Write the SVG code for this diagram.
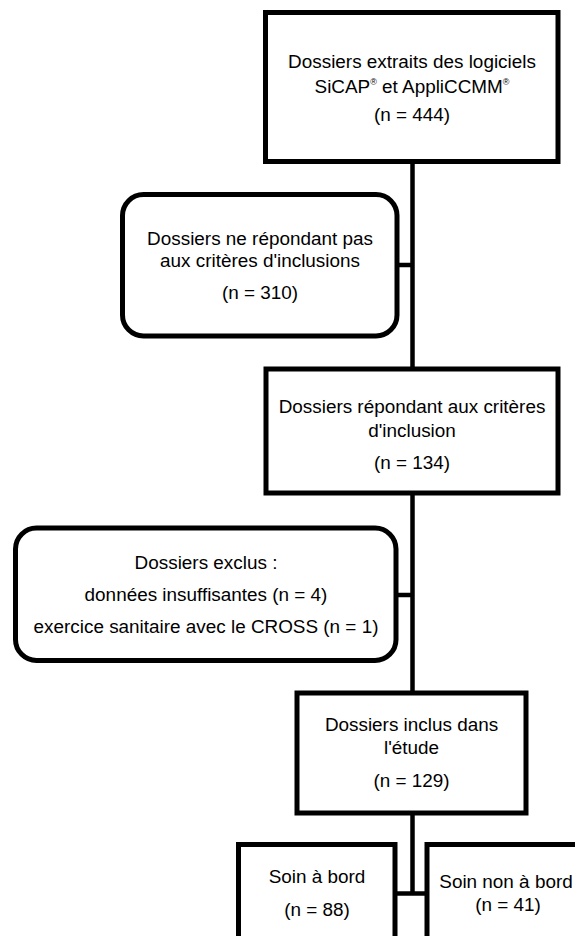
<svg xmlns="http://www.w3.org/2000/svg" width="575" height="936" viewBox="0 0 575 936">
<style>
.box{fill:#fff;stroke:#000;stroke-width:5}
.t{font-family:"Liberation Sans",Arial,sans-serif;font-size:18.9px;fill:#000;text-anchor:middle}
.sup{font-size:9px}
.c{fill:none;stroke:#000;stroke-width:4.5}
</style>
<rect width="575" height="936" fill="#fff"/>
<g id="connectors">
<line class="c" x1="412.5" y1="163" x2="412.5" y2="369"/>
<line class="c" x1="397" y1="265" x2="412.5" y2="265"/>
<line class="c" x1="412.5" y1="493" x2="412.5" y2="693"/>
<line class="c" x1="396" y1="595" x2="412.5" y2="595"/>
<line class="c" x1="412.5" y1="813" x2="412.5" y2="893.5"/>
<line class="c" x1="395" y1="893.5" x2="427" y2="893.5"/>
</g>
<g id="n1">
<rect class="box" x="265.5" y="12.5" width="292.5" height="149"/>
<text class="t" x="412" y="68">Dossiers extraits des logiciels</text>
<text class="t" x="412" y="93">SiCAP<tspan class="sup" dy="-8">®</tspan><tspan dy="8"> et AppliCCMM</tspan><tspan class="sup" dy="-8">®</tspan></text>
<text class="t" x="412" y="121">(n = 444)</text>
</g>
<g id="n2">
<rect class="box" x="122.5" y="194.5" width="274.5" height="141.5" rx="21"/>
<text class="t" x="260" y="245">Dossiers ne répondant pas</text>
<text class="t" x="260" y="267">aux critères d'inclusions</text>
<text class="t" x="260" y="299">(n = 310)</text>
</g>
<g id="n3">
<rect class="box" x="266" y="369" width="292" height="124"/>
<text class="t" x="412" y="413">Dossiers répondant aux critères</text>
<text class="t" x="412" y="437">d'inclusion</text>
<text class="t" x="412" y="469">(n = 134)</text>
</g>
<g id="n4">
<rect class="box" x="15.5" y="528" width="380.5" height="132.5" rx="21"/>
<text class="t" x="206" y="569">Dossiers exclus :</text>
<text class="t" x="206" y="601">données insuffisantes (n = 4)</text>
<text class="t" x="206" y="633">exercice sanitaire avec le CROSS (n = 1)</text>
</g>
<g id="n5">
<rect class="box" x="297" y="693" width="229" height="120"/>
<text class="t" x="411.5" y="731">Dossiers inclus dans</text>
<text class="t" x="411.5" y="754">l'étude</text>
<text class="t" x="411.5" y="787">(n = 129)</text>
</g>
<g id="n6">
<rect class="box" x="238.5" y="844.5" width="156.5" height="120"/>
<text class="t" x="317" y="883">Soin à bord</text>
<text class="t" x="317" y="916">(n = 88)</text>
</g>
<g id="n7">
<rect class="box" x="427" y="844.5" width="180" height="120"/>
<text class="t" x="506" y="888">Soin non à bord</text>
<text class="t" x="508" y="911">(n = 41)</text>
</g>
</svg>
